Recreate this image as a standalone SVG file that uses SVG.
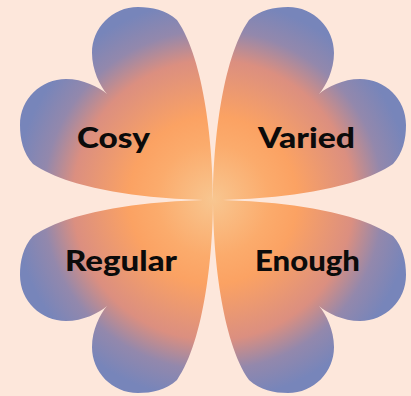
<svg xmlns="http://www.w3.org/2000/svg" xmlns:xlink="http://www.w3.org/1999/xlink" width="411" height="396" viewBox="0 0 411 396">
  <style>
    .label { font-family: "Lato", "Liberation Sans", sans-serif; font-weight: 900; font-size: 28px; fill: #0b0b0b; }
  </style>
  <defs>
    <radialGradient id="grad" gradientUnits="userSpaceOnUse" cx="213" cy="200" r="200">
      <stop offset="0" stop-color="#F8C690"/>
      <stop offset="0.28" stop-color="#FBAB6C"/>
      <stop offset="0.42" stop-color="#FBA263"/>
      <stop offset="0.7" stop-color="#DB8F80"/>
      <stop offset="0.85" stop-color="#9388AC"/>
      <stop offset="1" stop-color="#7785BA"/>
    </radialGradient>
    <path id="leaf" fill="url(#grad)" d="M213,200 C213,150 205,60 177,20 C166,10 152,7 138,7 C112,7 92,28 92,53 C92,70 100,86 107,94 C99,87 83,79 66,79 C41,79 20,99 20,125 C20,139 23,153 33,164 C73,192 163,200 213,200 Z"/>
  </defs>
  <rect x="0" y="0" width="411" height="396" fill="#FDE7DB"/>
  <g id="cosy">
    <use xlink:href="#leaf"/>
    <text class="label" x="77" y="148" textLength="73" lengthAdjust="spacingAndGlyphs">Cosy</text>
  </g>
  <g id="varied">
    <use xlink:href="#leaf" transform="rotate(90 213 200)"/>
    <text class="label" x="258" y="148" textLength="97" lengthAdjust="spacingAndGlyphs">Varied</text>
  </g>
  <g id="enough">
    <use xlink:href="#leaf" transform="rotate(180 213 200)"/>
    <text class="label" x="255" y="271" textLength="105" lengthAdjust="spacingAndGlyphs">Enough</text>
  </g>
  <g id="regular">
    <use xlink:href="#leaf" transform="rotate(270 213 200)"/>
    <text class="label" x="65" y="271" textLength="112" lengthAdjust="spacingAndGlyphs">Regular</text>
  </g>
</svg>
